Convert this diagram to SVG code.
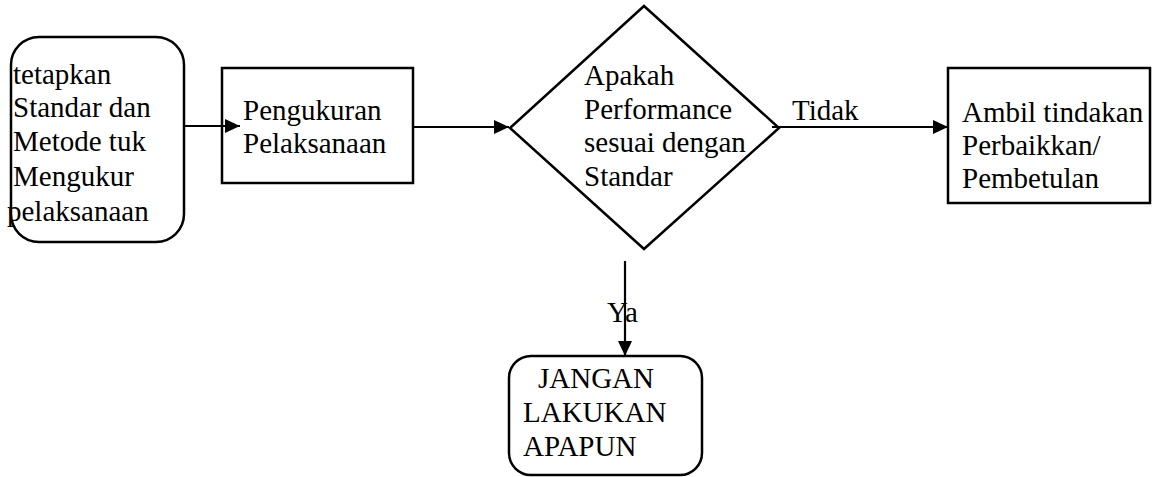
<svg xmlns="http://www.w3.org/2000/svg" width="1152" height="477" viewBox="0 0 1152 477">
<style>
.shape{fill:#fff;stroke:#000;stroke-width:2.5}
text{font-family:'Liberation Serif',Tinos,'Times New Roman',Times,serif;font-size:29px;fill:#000}
.c{fill:none;stroke:#000;stroke-width:2.2}
</style>
<defs>
<marker id="ah" markerUnits="userSpaceOnUse" markerWidth="16" markerHeight="14" refX="15" refY="7" orient="auto">
<path d="M0,0 L15,7 L0,14 Z" fill="#000"/>
</marker>
</defs>
<rect width="1152" height="477" fill="#fff"/>
<g id="n1">
<rect class="shape" x="11" y="37" width="173" height="205" rx="28" ry="28"/>
<text x="13" y="84">tetapkan</text>
<text x="13" y="117">Standar dan</text>
<text x="13" y="151">Metode tuk</text>
<text x="13" y="186">Mengukur</text>
<text x="7" y="221">pelaksanaan</text>
</g>
<g id="n2">
<rect class="shape" x="222" y="68" width="191" height="115"/>
<text x="243" y="119.5">Pengukuran</text>
<text x="243" y="152.5">Pelaksanaan</text>
</g>
<g id="n3">
<polygon class="shape" points="644,6 779,128 644,249 510,128"/>
<text x="584" y="85">Apakah</text>
<text x="584" y="118.5">Performance</text>
<text x="584" y="152">sesuai dengan</text>
<text x="584" y="185.5">Standar</text>
</g>
<g id="n4">
<rect class="shape" x="948" y="68" width="202" height="135"/>
<text x="962" y="122">Ambil tindakan</text>
<text x="962" y="155">Perbaikkan/</text>
<text x="962" y="188">Pembetulan</text>
</g>
<g id="n5">
<rect class="shape" x="509" y="356" width="193" height="119" rx="22" ry="22"/>
<text x="538" y="388">JANGAN</text>
<text x="523" y="422">LAKUKAN</text>
<text x="523" y="456">APAPUN</text>
</g>
<g id="connectors">
<line class="c" x1="184" y1="126" x2="240" y2="126" marker-end="url(#ah)"/>
<line class="c" x1="413" y1="127" x2="509" y2="127" marker-end="url(#ah)"/>
<line class="c" x1="772" y1="127" x2="948" y2="127" marker-end="url(#ah)"/>
<line class="c" x1="625" y1="261" x2="625" y2="356" marker-end="url(#ah)"/>
<text x="792" y="120">Tidak</text>
<text x="607" y="322">Ya</text>
</g>
</svg>
